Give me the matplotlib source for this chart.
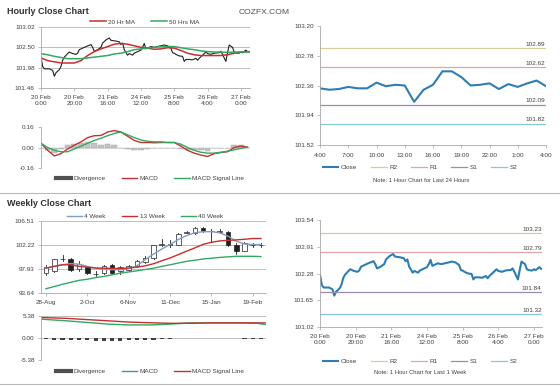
import numpy as np
import matplotlib
matplotlib.use("Agg")
import matplotlib.pyplot as plt
from matplotlib.lines import Line2D
from matplotlib.patches import Rectangle

plt.rcParams['font.family'] = ['Liberation Sans', 'DejaVu Sans']

# ---- hourly close, last week (hour index from 20 Feb 0:00) ----
week_hours = [0, 1, 2, 4, 5, 7, 8, 9, 11, 12, 13, 14, 16, 17, 19, 21, 22, 23, 25, 27,
              30, 31, 32, 34, 36, 37, 39, 41, 42, 45, 47, 48, 49, 50, 52, 53, 55, 56, 58, 60,
              61, 62, 63, 65, 66, 68, 70, 72, 74, 76, 78, 79, 80, 81, 83, 85, 86, 87, 89, 91,
              93, 94, 95, 97, 99, 100, 102, 104, 106, 107, 108, 109, 111, 112, 113, 115, 116, 117, 119, 120,
              121, 123, 124]
week_close = [102.25, 102.01, 101.95, 101.95, 101.95, 101.91, 101.76, 101.85, 101.93, 102.01,
              102.17, 102.25, 102.34, 102.38, 102.34, 102.32, 102.35, 102.44, 102.48, 102.52,
              102.57, 102.50, 102.40, 102.44, 102.50, 102.61, 102.69, 102.74, 102.68, 102.66,
              102.64, 102.57, 102.61, 102.44, 102.30, 102.34, 102.30, 102.35, 102.39, 102.43,
              102.50, 102.60, 102.46, 102.50, 102.52, 102.50, 102.52, 102.54, 102.56, 102.54,
              102.48, 102.36, 102.35, 102.32, 102.28, 102.27, 102.14, 102.19, 102.19, 102.18,
              102.22, 102.17, 102.22, 102.30, 102.38, 102.34, 102.32, 102.35, 102.36, 102.36,
              102.40, 102.32, 102.14, 102.36, 102.56, 102.50, 102.38, 102.36, 102.35, 102.38,
              102.36, 102.43, 102.39]
hour_ticks = [0, 20, 40, 60, 80, 100, 120]
hour_labels = ['20 Feb\n0:00', '20 Feb\n20:00', '21 Feb\n16:00', '24 Feb\n12:00',
               '25 Feb\n8:00', '26 Feb\n4:00', '27 Feb\n0:00']

ma_hours = list(range(0, 121, 4)) + [125]
ma20 = [102.23, 102.16, 102.13, 102.10, 102.10, 102.10, 102.16, 102.29, 102.39, 102.46,
        102.52, 102.58, 102.60, 102.58, 102.54, 102.50, 102.48, 102.45, 102.46, 102.49,
        102.48, 102.42, 102.35, 102.31, 102.29, 102.29, 102.29, 102.29, 102.31, 102.35,
        102.38, 102.39]
ma50 = [102.34, 102.31, 102.27, 102.24, 102.21, 102.21, 102.21, 102.23, 102.25, 102.27,
        102.29, 102.33, 102.35, 102.39, 102.44, 102.46, 102.48, 102.50, 102.52, 102.52,
        102.52, 102.49, 102.46, 102.44, 102.41, 102.39, 102.38, 102.38, 102.37, 102.38,
        102.38, 102.38]

macd_hours = list(range(0, 125, 4))
macd_h = [0.033, -0.022, -0.066, -0.048, -0.011, 0.018, 0.044, 0.077, 0.092, 0.094,
          0.121, 0.132, 0.121, 0.088, 0.055, 0.039, 0.039, 0.037, 0.039, 0.039,
          0.039, 0.011, -0.022, -0.044, -0.059, -0.070, -0.048, -0.039, -0.033, 0.000,
          0.011, 0.004]
signal_h = [0.033, 0.000, -0.022, -0.033, -0.033, -0.011, 0.011, 0.033, 0.055, 0.072,
            0.092, 0.110, 0.121, 0.099, 0.077, 0.059, 0.048, 0.044, 0.044, 0.039,
            0.039, 0.026, 0.000, -0.022, -0.037, -0.044, -0.044, -0.037, -0.029, -0.018,
            -0.007, 0.004]
div_h = [0.0, -0.02, -0.04, -0.015, 0.02, 0.03, 0.033, 0.04, 0.037, 0.022,
         0.03, 0.022, 0.0, -0.011, -0.022, -0.02, -0.009, -0.007, -0.005, 0.0,
         0.0, -0.015, -0.022, -0.022, -0.022, -0.026, -0.004, -0.002, -0.004, 0.018,
         0.018, 0.0]

# ---- last 24 hours ----
day_close = [102.32, 102.30, 102.31, 102.34, 102.32, 102.32, 102.40, 102.35, 102.37, 102.36,
             102.13, 102.30, 102.37, 102.56, 102.56, 102.48, 102.36, 102.37, 102.39, 102.31,
             102.38, 102.34, 102.39, 102.43, 102.35]
day_labels = ['4:00', '7:00', '10:00', '13:00', '16:00', '19:00', '22:00', '1:00', '4:00']
level_names = ['R2', 'R1', 'S1', 'S2']
level_colors = ['#d8cc9c', '#e2a4ac', '#9c8cb4', '#86c8d8']
day_levels = [102.89, 102.62, 102.09, 101.82]
week_levels = [103.23, 102.79, 101.84, 101.32]

# ---- weekly candles, 28-Aug .. 26-Feb ----
w_open = [97.3, 97.5, 99.7, 99.8, 97.9, 98.3, 97.1, 97.2, 98.7, 97.5, 97.8, 98.5, 99.1, 99.9,
          102.3, 102.3, 102.3, 104.4, 104.3, 105.3, 104.7, 104.6, 104.6, 102.2, 101.2, 102.2, 102.2]
w_close = [98.2, 99.7, 99.8, 97.8, 98.9, 97.2, 97.0, 98.5, 97.3, 98.3, 98.5, 99.3, 99.9, 102.2,
           102.4, 102.4, 104.2, 104.5, 105.3, 104.7, 104.8, 104.7, 102.3, 101.1, 102.6, 102.25, 102.25]
w_high = [98.6, 99.8, 100.5, 99.9, 99.3, 98.4, 97.5, 98.6, 98.8, 98.5, 98.7, 99.6, 100.2, 102.3,
          103.3, 103.2, 104.3, 104.8, 105.4, 105.4, 105.1, 105.0, 104.8, 102.5, 102.7, 102.6, 102.6]
w_low = [96.9, 97.4, 99.3, 97.6, 97.6, 97.0, 96.7, 97.1, 97.2, 97.1, 97.6, 98.3, 99.0, 99.8,
         102.0, 101.9, 102.2, 104.3, 104.2, 104.5, 102.8, 104.3, 102.0, 100.7, 101.1, 101.9, 101.9]
ma4w = [98.1, 98.4, 98.7, 98.9, 98.8, 98.4, 98.1, 97.9, 97.8, 97.8, 98.0, 98.5, 99.6, 100.6,
        101.5, 102.3, 103.2, 103.9, 104.4, 104.6, 104.6, 104.4, 103.8, 102.9, 102.4, 102.3, 102.3]
ma13w = [98.07, 98.4, 98.68, 98.68, 98.4, 98.26, 98.1, 98.07, 98.05, 98.01, 98.1, 98.26, 98.5,
         98.87, 99.4, 99.9, 100.5, 101.12, 101.7, 102.34, 102.7, 102.95, 103.05, 103.13, 103.25,
         103.38, 103.38]
ma40w = [94.4, 94.8, 95.2, 95.55, 95.9, 96.1, 96.4, 96.6, 96.9, 97.2, 97.4, 97.6, 97.85, 98.07,
         98.4, 98.68, 99.0, 99.3, 99.5, 99.72, 99.85, 100.0, 100.1, 100.2, 100.2, 100.2, 100.15]
week_ticks = [0, 5, 10, 15, 20, 25]
week_labels = ['28-Aug', '2-Oct', '6-Nov', '11-Dec', '15-Jan', '19-Feb']

wm_x = [-0.5, 2.5, 5, 7.5, 10, 13, 15, 17.5, 20, 23, 25.5, 26.5]
wmacd = [4.6, 4.2, 3.8, 3.4, 3.2, 3.2, 3.4, 3.7, 3.7, 3.7, 3.6, 3.3]
wsignal = [5.0, 4.8, 4.5, 4.2, 3.9, 3.7, 3.6, 3.6, 3.7, 3.7, 3.7, 3.7]
wdiv = [-0.3, -0.4, -0.4, -0.5, -0.5, -0.6, -0.7, -0.7, -0.7, -0.7, -0.6, -0.6, -0.5, -0.4,
        -0.3, -0.2, -0.1, 0.1, 0.1, 0.0, 0.0, 0.0, -0.1, -0.1, -0.2, -0.2, -0.3]

RED = '#c4302f'
GREEN = '#34a862'
BLUE = '#2e7db5'
BLUE4 = '#7f9ec2'
GRID = '#b4b4b4'
AXC = '#a8a8a8'
TXT = '#404040'
FS = 4.6

W, H = 560, 386
fig = plt.figure(figsize=(W / 100, H / 100), dpi=100)


def box(l, t, r, b):
    return [l / W, 1 - b / H, (r - l) / W, (b - t) / H]


def style(ax, grid=True):
    for s in ['top', 'right']:
        ax.spines[s].set_visible(False)
    for s in ['left', 'bottom']:
        ax.spines[s].set_color(AXC)
        ax.spines[s].set_linewidth(0.6)
    ax.tick_params(labelsize=FS, colors=AXC, labelcolor=TXT, length=2, width=0.5, pad=2.5)
    ax.tick_params(axis='x', pad=3)
    if grid:
        ax.yaxis.grid(True, color=GRID, lw=0.6)
        ax.set_axisbelow(True)


def legend(ax, handles, labels, x, y, spacing=2.5):
    ax.legend(handles, labels, loc='center', bbox_to_anchor=(x / W, 1 - y / H),
              bbox_transform=fig.transFigure, ncol=len(handles), frameon=False,
              fontsize=FS, handlelength=2.4, handletextpad=0.4, columnspacing=spacing,
              borderaxespad=0, borderpad=0, labelcolor=TXT)


def hline(y, x0=0, x1=W):
    fig.add_artist(Line2D([x0 / W, x1 / W], [1 - y / H] * 2, color='#b8b8b8', lw=0.8))


fig.text(7 / W, 1 - 11 / H, 'Hourly Close Chart', fontsize=6.5, fontweight='bold',
         color='#333333', va='center')
fig.text(239 / W, 1 - 12 / H, 'COZFX.COM', fontsize=6.1, color='#505050', va='center')
fig.text(7 / W, 1 - 203 / H, 'Weekly Close Chart', fontsize=6.5, fontweight='bold',
         color='#333333', va='center')
hline(193)
hline(384)

# hourly price with moving averages
ax1 = fig.add_axes(box(41, 27, 250, 88))
style(ax1)
ax1.plot(week_hours, week_close, color='#202020', lw=0.8)
l20, = ax1.plot(ma_hours, ma20, color=RED, lw=1.1)
l50, = ax1.plot(ma_hours, ma50, color=GREEN, lw=1.1)
ax1.set_xlim(0, 125.5)
ax1.set_ylim(101.46, 103.02)
ax1.set_yticks([101.46, 101.98, 102.50, 103.02])
ax1.set_yticklabels(['101.46', '101.98', '102.50', '103.02'])
ax1.set_xticks(hour_ticks)
ax1.set_xticklabels(hour_labels, linespacing=1.3)
legend(ax1, [l20, l50], ['20 Hr MA', '50 Hrs MA'], 145, 22)

# hourly MACD
ax2 = fig.add_axes(box(41, 127, 250, 168))
style(ax2, grid=False)
ax2.bar(macd_hours, div_h, width=3.4, color='#c4c4c4', edgecolor='#a0a0a0', lw=0.3)
lm, = ax2.plot(macd_hours, macd_h, color=RED, lw=1.0)
ls, = ax2.plot(macd_hours, signal_h, color=GREEN, lw=1.0)
ax2.axhline(0, color='#d0d0d0', lw=0.5, zorder=0)
ax2.set_xlim(0, 125.5)
ax2.set_ylim(-0.16, 0.16)
ax2.set_yticks([-0.16, 0.0, 0.16])
ax2.set_yticklabels(['-0.16', '0.00', '0.16'])
ax2.set_xticks([])
ax2.spines['bottom'].set_visible(False)
legend(ax2, [Line2D([], [], color='#505050', lw=3), lm, ls],
       ['Divergence', 'MACD', 'MACD Signal Line'], 150, 178)

# weekly candles
ax3 = fig.add_axes(box(41, 221, 266, 293))
style(ax3)
for i in range(len(w_open)):
    o, c = w_open[i], w_close[i]
    ax3.plot([i, i], [w_low[i], w_high[i]], color='#202020', lw=0.6, zorder=2)
    lo, hi = min(o, c), max(o, c)
    fc = 'white' if c >= o else '#202020'
    ax3.add_patch(Rectangle((i - 0.28, lo), 0.56, max(hi - lo, 0.08), facecolor=fc,
                            edgecolor='#202020', lw=0.5, zorder=3))
p4, = ax3.plot(range(len(ma4w)), ma4w, color=BLUE4, lw=1.0, zorder=4)
p13, = ax3.plot(range(len(ma13w)), ma13w, color=RED, lw=1.0, zorder=4)
p40, = ax3.plot(range(len(ma40w)), ma40w, color=GREEN, lw=1.0, zorder=4)
ax3.set_xlim(-0.6, 26.6)
ax3.set_ylim(93.64, 106.51)
ax3.set_yticks([93.64, 97.93, 102.22, 106.51])
ax3.set_yticklabels(['93.64', '97.93', '102.22', '106.51'])
ax3.set_xticks(week_ticks)
ax3.set_xticklabels(week_labels)
legend(ax3, [p4, p13, p40], ['4 Week', '13 Week', '40 Week'], 145, 216)

# weekly MACD
ax4 = fig.add_axes(box(41, 316, 266, 360))
style(ax4)
ax4.bar(range(len(wdiv)), wdiv, width=0.5, color='#404040')
wm, = ax4.plot(wm_x, wmacd, color=GREEN, lw=1.0)
ws, = ax4.plot(wm_x, wsignal, color=RED, lw=1.0)
ax4.set_xlim(-0.6, 26.6)
ax4.set_ylim(-5.38, 5.38)
ax4.set_yticks([-5.38, 0.0, 5.38])
ax4.set_yticklabels(['-5.38', '0.00', '5.38'])
ax4.set_xticks([])
ax4.spines['bottom'].set_visible(False)
legend(ax4, [Line2D([], [], color='#505050', lw=3), wm, ws],
       ['Divergence', 'MACD', 'MACD Signal Line'], 150, 371)

# last 24 hours with pivot levels
ax5 = fig.add_axes(box(320, 26, 546, 145))
style(ax5, grid=False)
hc, = ax5.plot(range(len(day_close)), day_close, color=BLUE, lw=1.5)
hl = [hc]
for v, col in zip(day_levels, level_colors):
    h, = ax5.plot([0, 24], [v, v], color=col, lw=0.9)
    hl.append(h)
    ax5.text(23.9, v + 0.02, f'{v:.2f}', fontsize=FS, color=TXT, ha='right', va='bottom')
ax5.set_xlim(0, 24)
ax5.set_ylim(101.52, 103.20)
ax5.set_yticks([101.52, 101.94, 102.36, 102.78, 103.20])
ax5.set_yticklabels(['101.52', '101.94', '102.36', '102.78', '103.20'])
ax5.set_xticks(range(0, 25, 3))
ax5.set_xticklabels(day_labels)
ax5.tick_params(axis='x', pad=4)
legend(ax5, hl, ['Close'] + level_names, 420, 167, spacing=2.2)
fig.text(421 / W, 1 - 180 / H, 'Note: 1 Hour Chart for Last 24 Hours', fontsize=4.2,
         color=TXT, ha='center', va='center')

# last week with pivot levels
ax6 = fig.add_axes(box(320, 220, 542, 327))
style(ax6, grid=False)
wc, = ax6.plot(week_hours, week_close, color=BLUE, lw=1.5)
wl = [wc]
for v, col in zip(week_levels, level_colors):
    h, = ax6.plot([0, 124.5], [v, v], color=col, lw=0.9)
    wl.append(h)
    ax6.text(124.3, v + 0.03, f'{v:.2f}', fontsize=FS, color=TXT, ha='right', va='bottom')
ax6.set_xlim(0, 124.5)
ax6.set_ylim(101.02, 103.54)
ax6.set_yticks([101.02, 101.65, 102.28, 102.91, 103.54])
ax6.set_yticklabels(['101.02', '101.65', '102.28', '102.91', '103.54'])
ax6.set_xticks(hour_ticks)
ax6.set_xticklabels(hour_labels, linespacing=1.3)
legend(ax6, wl, ['Close'] + level_names, 420, 361, spacing=2.2)
fig.text(420 / W, 1 - 373 / H, 'Note: 1 Hour Chart for Last 1 Week', fontsize=4.2,
         color=TXT, ha='center', va='center')

fig.savefig('out.png', dpi=100)
